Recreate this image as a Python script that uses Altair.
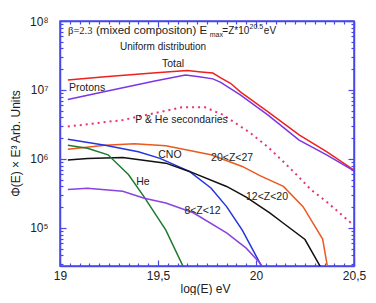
import altair as alt
import pandas as pd

# ---------------- data ----------------
total_x = [19.04, 19.23, 19.49, 19.65, 19.72, 19.78, 19.82, 19.87, 19.92, 20.06, 20.22, 20.36, 20.5]
total_y = [1.40e7, 1.56e7, 1.78e7, 1.91e7, 1.82e7, 1.76e7, 1.50e7, 1.25e7, 9.4e6, 4.85e6, 2.23e6, 1.28e6, 6.9e5]

protons_x = [19.04, 19.23, 19.49, 19.64, 19.71, 19.78, 19.82, 19.88, 19.92, 20.06, 20.22, 20.36, 20.5]
protons_y = [7.3e6, 9.5e6, 1.36e7, 1.65e7, 1.55e7, 1.45e7, 1.29e7, 1.0e7, 8.5e6, 4.35e6, 1.88e6, 1.15e6, 6.7e5]

sec_x = [19.04, 19.32, 19.62, 19.74, 19.83, 19.97, 20.06, 20.14, 20.21, 20.28, 20.36, 20.49]
sec_y = [2.95e6, 3.67e6, 5.6e6, 5.6e6, 4.4e6, 2.4e6, 1.5e6, 9.1e5, 5.8e5, 3.6e5, 2.4e5, 1.15e5]

z2027_x = [19.04, 19.23, 19.38, 19.54, 19.77, 19.93, 20.02, 20.14, 20.24, 20.34, 20.365]
z2027_y = [1.38e6, 1.58e6, 1.66e6, 1.55e6, 1.15e6, 7.8e5, 5.75e5, 4.0e5, 2.04e5, 6.9e4, 2.7e4]

cno_x = [19.04, 19.23, 19.40, 19.51, 19.66, 19.77, 19.85, 19.93, 20.02, 20.03]
cno_y = [1.93e6, 1.58e6, 1.27e6, 1.02e6, 6.6e5, 3.8e5, 2.04e5, 9.3e4, 3.1e4, 2.7e4]

z1220_x = [19.04, 19.14, 19.32, 19.54, 19.66, 19.85, 19.95, 20.07, 20.14, 20.25, 20.33]
z1220_y = [9.7e5, 1.02e6, 1.05e6, 8.7e5, 6.6e5, 4.0e5, 2.8e5, 1.66e5, 1.17e5, 6.8e4, 2.7e4]

he_x = [19.04, 19.14, 19.245, 19.35, 19.43, 19.54, 19.63]
he_y = [1.58e6, 1.43e6, 1.15e6, 5.9e5, 2.8e5, 9.3e4, 2.7e4]

z812_x = [19.04, 19.14, 19.32, 19.43, 19.54, 19.68, 19.85, 19.95, 20.02, 20.035]
z812_y = [3.6e5, 3.76e5, 3.4e5, 2.7e5, 2.3e5, 1.66e5, 8.5e4, 5.1e4, 3.1e4, 2.7e4]

series_names = ["Total", "Protons", "20<Z<27", "CNO", "12<Z<20", "He", "8<Z<12"]
series_colors = ["#ee2020", "#7a36e6", "#ea5a20", "#2434e0", "#111111", "#1f7a2e", "#8a42e2"]
sec_color = "#e8336e"

label_text = ["Total", "Protons", "P & He secondaries", "CNO", "He", "20<Z<27", "12<Z<20", "8<Z<12"]
label_x = [19.577, 19.138, 19.62, 19.561, 19.423, 19.878, 20.056, 19.727]
label_y = [2.38e7, 1.07e7, 3.67e6, 1.14e6, 4.65e5, 1.05e6, 2.81e5, 1.76e5]

# header: right-aligned lead-in, then left-aligned pieces
lead_text = ["(mixed compositon) E"]
lead_x = [19.751]
lead_y = [7.05e7]

head_text = ["max", "=Z*10", "20.5", "eV"]
head_x = [19.764, 19.828, 19.967, 20.04]
head_y = [6.27e7, 7.05e7, 8.05e7, 7.05e7]
head_size = [7, 10, 7, 10]

beta_text = ["β=2.3"]
beta_x = [19.041]
beta_y = [7.05e7]

sub_text = ["Uniform distribution"]
sub_x = [19.5255]
sub_y = [4.2e7]

# ---------------- tables ----------------
rows = []
for name, xs_, ys_ in [("Total", total_x, total_y), ("Protons", protons_x, protons_y),
                       ("20<Z<27", z2027_x, z2027_y), ("CNO", cno_x, cno_y),
                       ("12<Z<20", z1220_x, z1220_y), ("He", he_x, he_y), ("8<Z<12", z812_x, z812_y)]:
    for i, (a, b) in enumerate(zip(xs_, ys_)):
        rows.append({"series": name, "logE": a, "flux": b, "ord": i})
df = pd.DataFrame(rows)
df_sec = pd.DataFrame({"logE": sec_x, "flux": sec_y, "ord": list(range(len(sec_x)))})
df_lab = pd.DataFrame({"logE": label_x, "flux": label_y, "txt": label_text})
df_lead = pd.DataFrame({"logE": lead_x, "flux": lead_y, "txt": lead_text})
df_head = pd.DataFrame({"logE": head_x, "flux": head_y, "txt": head_text, "fs": head_size})
df_beta = pd.DataFrame({"logE": beta_x, "flux": beta_y, "txt": beta_text})
df_sub = pd.DataFrame({"logE": sub_x, "flux": sub_y, "txt": sub_text})

AX = "#4848e8"
FONT = "Liberation Sans"
MX = "abs(datum.value*2 - round(datum.value*2)) < 0.001"
MY = "abs(log(datum.value)/LN10 - round(log(datum.value)/LN10)) < 0.001"

x_ticks = [round(19 + 0.05 * i, 2) for i in range(31)]
y_ticks = [m * 10 ** e for e in range(4, 9) for m in range(1, 10) if 2.81e4 <= m * 10 ** e <= 1e8]

xs = alt.Scale(domain=[19, 20.5], nice=False, zero=False)
ys = alt.Scale(type="log", domain=[2.81e4, 1e8], nice=False)

common = dict(domainColor=AX, domainWidth=1.5, tickColor=AX, tickWidth=1.2, grid=False,
              labelOverlap=False, labelFlush=False)

x_bottom = alt.Axis(orient="bottom", values=x_ticks,
                    labelExpr=f"{MX} ? replace(format(datum.value, '~g'), '.', ',') : ''",
                    tickSize=alt.ExprRef(expr=f"{MX} ? -6 : -3"), labelPadding=10,
                    labelFont=FONT, labelFontSize=12, labelColor="#222",
                    title="log(E) eV", titleFont=FONT, titleFontSize=12, titleFontWeight="normal",
                    titleColor="#222", titleX=145, titleY=22, titleBaseline="middle", **common)
y_left = alt.Axis(orient="left", values=y_ticks,
                  labelExpr=f"{MY} ? '10' + ['⁰','¹','²','³','⁴','⁵','⁶','⁷','⁸','⁹'][round(log(datum.value)/LN10)] : ''",
                  tickSize=alt.ExprRef(expr=f"{MY} ? -6 : -3"), labelPadding=18,
                  labelFont=FONT, labelFontSize=12, labelColor="#222",
                  title="Φ(E) × E³  Arb. Units", titleFont=FONT, titleFontSize=12,
                  titleFontWeight="normal", titleColor="#222", titleAngle=-90,
                  titleX=-45, titleY=122, titleBaseline="middle", titleAlign="center", **common)
x_top = alt.Axis(orient="top", values=x_ticks, labels=False, title=None,
                 tickSize=alt.ExprRef(expr=f"{MX} ? -6 : -3"), **common)
y_right = alt.Axis(orient="right", values=y_ticks, labels=False, title=None,
                   tickSize=alt.ExprRef(expr=f"{MY} ? -6 : -3"), **common)

enc_xy = dict(x=alt.X("logE:Q", scale=xs, axis=None), y=alt.Y("flux:Q", scale=ys, axis=None))

lines = alt.Chart(df).mark_line(clip=True, strokeWidth=1.5).encode(
    x=alt.X("logE:Q", scale=xs, axis=x_bottom),
    y=alt.Y("flux:Q", scale=ys, axis=y_left),
    color=alt.Color("series:N", scale=alt.Scale(domain=series_names, range=series_colors), legend=None),
    order="ord:Q",
)
mirror = alt.Chart(df).mark_line(opacity=0).encode(
    x=alt.X("logE:Q", scale=xs, axis=x_top),
    y=alt.Y("flux:Q", scale=ys, axis=y_right),
    detail="series:N",
)
sec = alt.Chart(df_sec).mark_line(clip=True, strokeWidth=2, strokeDash=[2, 4], color=sec_color).encode(
    order="ord:Q", **enc_xy
)
labels = alt.Chart(df_lab).mark_text(font=FONT, fontSize=10.5, color="#222").encode(
    text="txt:N", **enc_xy
)
lead = alt.Chart(df_lead).mark_text(font=FONT, fontSize=11.5, align="right", baseline="middle",
                                     color="#222").encode(text="txt:N", **enc_xy)
head = alt.Chart(df_head).mark_text(font=FONT, align="left", baseline="middle", color="#222").encode(
    text="txt:N", size=alt.Size("fs:Q", scale=None, legend=None), **enc_xy
)
beta = alt.Chart(df_beta).mark_text(font="Liberation Serif", fontSize=10.5, align="left",
                                     baseline="middle", color="#222").encode(text="txt:N", **enc_xy)
sub = alt.Chart(df_sub).mark_text(font=FONT, fontSize=10, align="center", baseline="middle",
                                   color="#222").encode(text="txt:N", **enc_xy)

chart = alt.layer(lines, mirror, sec, labels, lead, head, beta, sub).resolve_axis(
    x="independent", y="independent"
).properties(
    width=294, height=245,
    autosize=alt.AutoSizeParams(type="none"),
    padding={"left": 52, "top": 13, "right": 14, "bottom": 29},
).configure_view(stroke=AX, strokeWidth=1.5)

chart.save("out.html", embed_options={"renderer": "svg", "actions": False})
